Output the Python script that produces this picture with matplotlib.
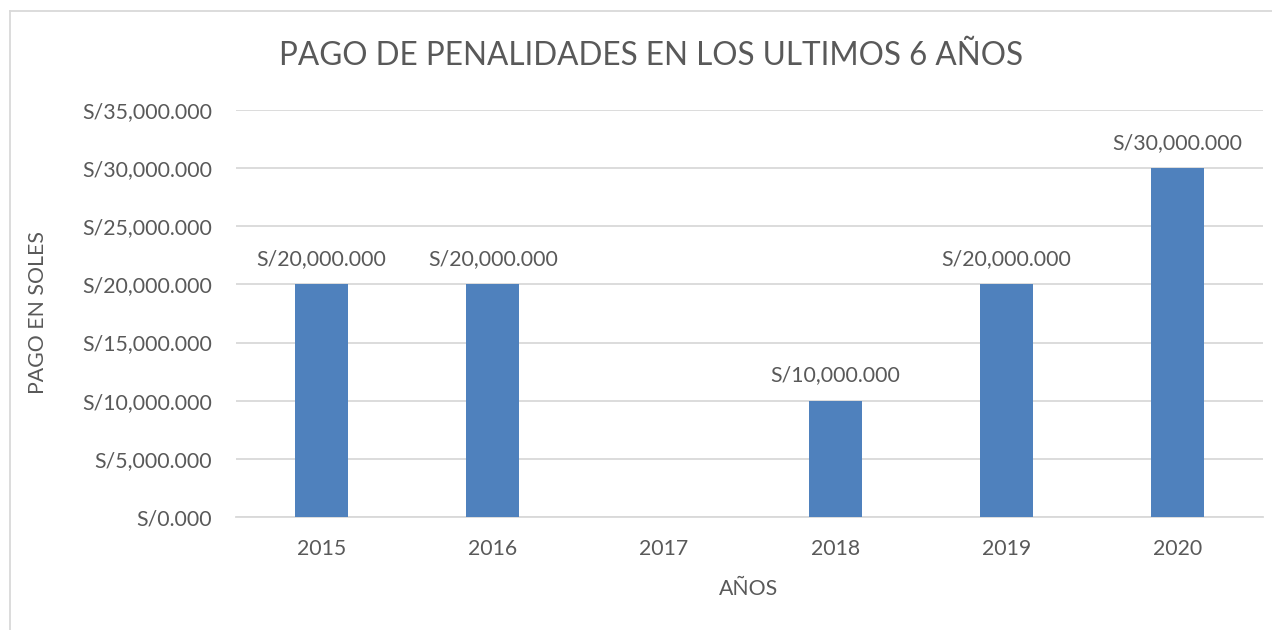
import matplotlib
matplotlib.use("Agg")
import matplotlib.pyplot as plt
from matplotlib.lines import Line2D

years = ["2015", "2016", "2017", "2018", "2019", "2020"]
payments = [20000000, 20000000, 0, 10000000, 20000000, 30000000]
y_ticks = [0, 5000000, 10000000, 15000000, 20000000, 25000000, 30000000, 35000000]

title = "PAGO DE PENALIDADES EN LOS ULTIMOS 6 AÑOS"
x_label = "AÑOS"
y_label = "PAGO EN SOLES"

def fmt(v):
    return "S/" + f"{v/1000:,.3f}"

plt.rcParams['font.family'] = ['Lato', 'DejaVu Sans']
text_color = "#595959"
bar_color = "#4F81BD"
grid_color = "#D9D9D9"
fs = 15.3

W, H = 1272, 630
fig = plt.figure(figsize=(W/100, H/100), dpi=100)
ax = fig.add_axes([236/W, 1-517/H, (1263-236)/W, (517-110)/H])

x = list(range(len(years)))
ax.bar(x, payments, width=0.31, color=bar_color, zorder=3)
ax.set_xlim(-0.5, len(years)-0.5)
ax.set_ylim(0, 35000000)
ax.set_yticks(y_ticks)
ax.set_yticklabels([fmt(v) for v in y_ticks])
ax.set_xticks(x)
ax.set_xticklabels(years)
ax.tick_params(axis='both', length=0, labelsize=fs, colors=text_color)
ax.tick_params(axis='y', pad=17)
ax.tick_params(axis='x', pad=16)
ax.grid(axis='y', color=grid_color, linewidth=1.3, zorder=0)
for s in ["top", "right", "left"]:
    ax.spines[s].set_visible(False)
ax.spines["bottom"].set_color(grid_color)
ax.spines["bottom"].set_linewidth(1.3)

for xi, v in zip(x, payments):
    if v > 0:
        ax.annotate(fmt(v), (xi, v), xytext=(0, 11), textcoords="offset points",
                    ha="center", va="bottom", fontsize=fs, color=text_color)

fig.text(651/W, 1-56/H, title, ha="center", va="center", fontsize=22.7, color=text_color)
fig.text(749/W, 1-589/H, x_label, ha="center", va="center", fontsize=fs, color=text_color)
fig.text(38/W, 1-313/H, y_label, ha="center", va="center", rotation=90, fontsize=fs, color=text_color)

fig.add_artist(Line2D([9.5/W, 9.5/W], [0, 1-11/H], color="#D9D9D9", linewidth=1.3, transform=fig.transFigure))
fig.add_artist(Line2D([9.5/W, 1], [1-11/H, 1-11/H], color="#D9D9D9", linewidth=1.3, transform=fig.transFigure))

fig.savefig("out.png", dpi=100)
